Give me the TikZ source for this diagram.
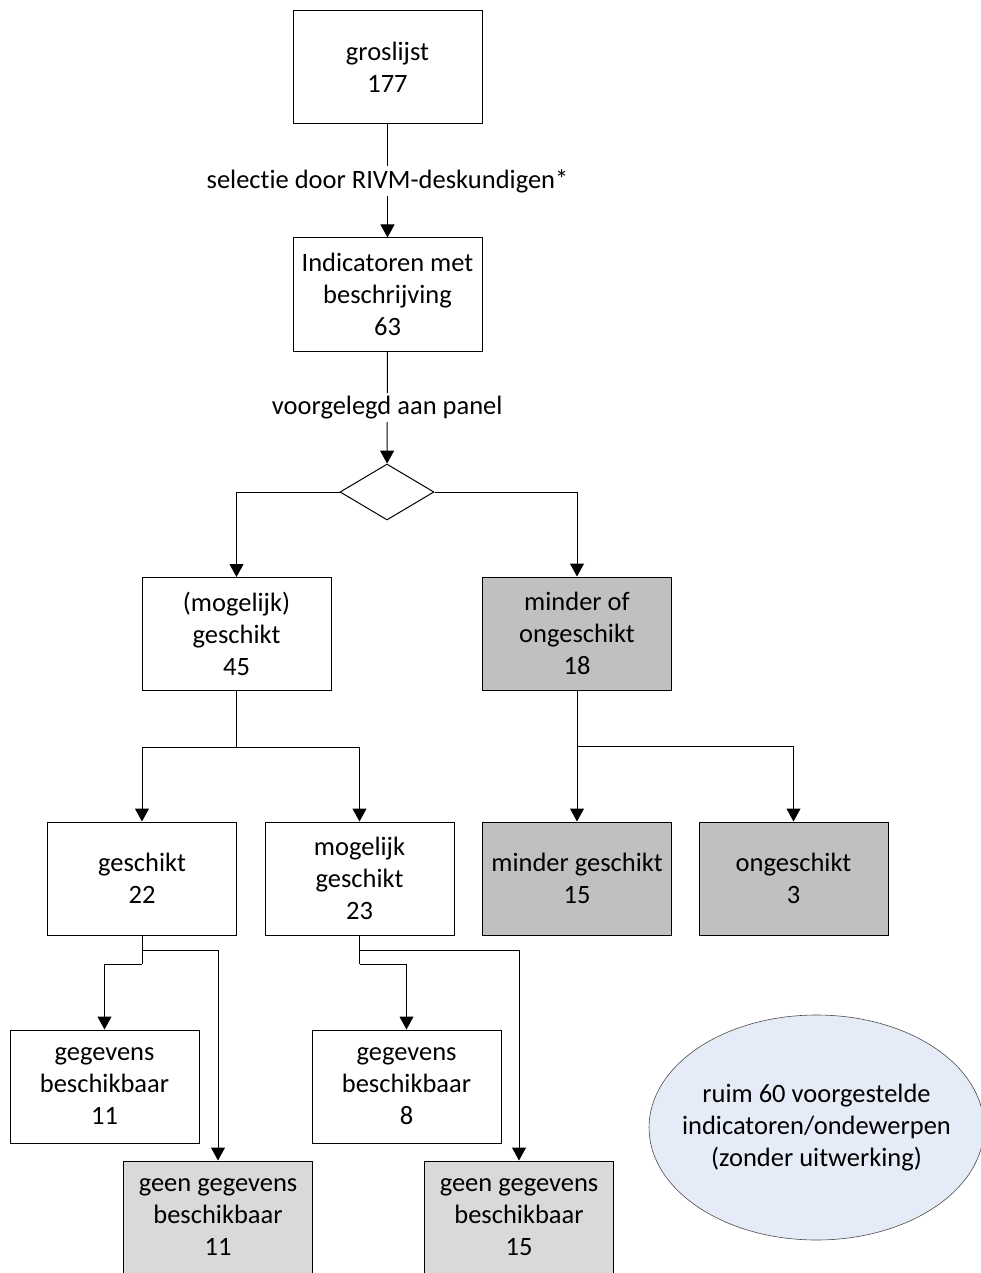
\documentclass[tikz,border=0pt]{standalone}
\usepackage{fontspec}
\setmainfont{Carlito}[Ligatures=NoCommon]
\usetikzlibrary{arrows.meta}
\usetikzlibrary{shapes.geometric}
\definecolor{box-grey}{RGB}{192, 192, 192}
\definecolor{box-lightgrey}{RGB}{217, 217, 217}
\definecolor{ellipse-blue}{RGB}{230, 236, 247}

\begin{document}
\begin{tikzpicture}[x=1pt, y=-1pt,
    every node/.style={font=\fontsize{26.5}{32}\selectfont, align=center},
    box/.style={draw=black, line width=1pt, minimum width=189pt, minimum height=113pt, inner sep=0pt},
    greybox/.style={box, fill=box-grey},
    lightbox/.style={box, fill=box-lightgrey},
    arr/.style={line width=1pt, -{Triangle[width=14pt, length=13pt]}},
    lijn/.style={line width=1pt},
    lbl/.style={fill=white, inner sep=3pt}]
            \useasboundingbox (0,0) rectangle (981,1273);

\node[box] (gros) at (387.5,67.5) {groslijst\\177};
\node[box] (indic) at (387.5,294.5) {Indicatoren met\\beschrijving\\63};
\node[draw=black, line width=1pt, diamond, aspect=1.68, minimum width=94pt, minimum height=56pt, inner sep=0pt] (ruit) at (387,492) {};

\node[box] (mog) at (236.5,634) {(mogelijk)\\geschikt\\45};
\node[greybox] (minof) at (577,633.5) {minder of\\ongeschikt\\18};

\node[box] (gesch) at (142,878.5) {geschikt\\22};
\node[box] (mgesch) at (359.5,878.5) {mogelijk\\geschikt\\23};
\node[greybox] (mindg) at (577,878.5) {minder geschikt\\15};
\node[greybox] (ongesch) at (793.5,878.5) {ongeschikt\\3};

\node[box] (gegev11) at (104.5,1086.5) {gegevens\\beschikbaar\\11};
\node[box] (gegev8) at (406.5,1086.5) {gegevens\\beschikbaar\\8};
\node[lightbox] (geen11) at (218,1217.5) {geen gegevens\\beschikbaar\\11};
\node[lightbox] (geen15) at (519,1217.5) {geen gegevens\\beschikbaar\\15};

\node[ellipse, draw=black!70, line width=0.6pt, fill=ellipse-blue, minimum width=330pt, minimum height=225pt, inner xsep=-16pt, inner ysep=0pt] (rest) at (816.5,1127.5) {ruim 60 voorgestelde\\indicatoren/ondewerpen\\(zonder uitwerking)};

\coordinate (splitmog) at (236.5,747);
\coordinate (splitmin) at (577,746);
\coordinate (gesch1) at (142,950);
\coordinate (gesch2) at (142,964);
\coordinate (mgesch1) at (359.5,950);
\coordinate (mgesch2) at (359.5,964);

\draw[arr] (gros) -- node[lbl] {selectie door RIVM-deskundigen*} (indic);
\draw[arr] (indic) -- node[lbl] {voorgelegd aan panel} (ruit);
\draw[arr] (ruit.west) -| (mog);
\draw[arr] (ruit.east) -| (minof);

\draw[lijn] (mog) -- (splitmog);
\draw[arr] (splitmog) -| (gesch);
\draw[arr] (splitmog) -| (mgesch);
\draw[arr] (minof) -- (mindg);
\draw[arr] (splitmin) -| (ongesch);

\draw[lijn] (gesch) -- (gesch2);
\draw[arr] (gesch2) -| (gegev11);
\draw[arr] (gesch1) -| (geen11);
\draw[lijn] (mgesch) -- (mgesch2);
\draw[arr] (mgesch2) -| (gegev8);
\draw[arr] (mgesch1) -| (geen15);

            \end{tikzpicture}
\end{document}
